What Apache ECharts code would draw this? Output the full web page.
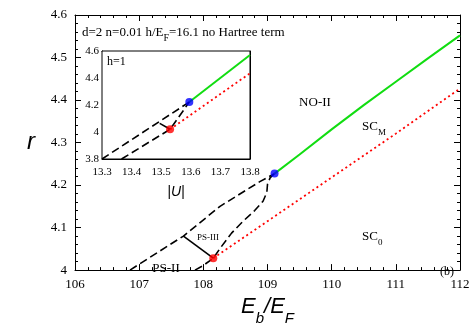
<!DOCTYPE html>
<html>
<head>
<meta charset="utf-8">
<script src="https://cdn.jsdelivr.net/npm/echarts@6/dist/echarts.min.js"></script>
<style>
html,body{margin:0;padding:0;background:#fff;}
#main{width:473px;height:331px;}
</style>
</head>
<body>
<div id="main"></div>
<script>
// main panel: E_b/E_F vs r
var greenMain = [[109.11, 4.227], [109.5, 4.272], [110, 4.331], [110.5, 4.388], [111, 4.443], [111.5, 4.498], [112, 4.552]];
var redMain = [[108.155, 4.028], [109, 4.115], [110, 4.218], [111, 4.321], [112, 4.427]];
var upperDashMain = [[106.857, 4.0], [107.48, 4.06], [107.69, 4.08], [108.26, 4.15], [108.88, 4.208], [109.11, 4.227]];
var lowerDashMain = [[107.87, 4.0], [108.0, 4.011], [108.155, 4.028], [108.26, 4.051], [108.44, 4.087], [108.62, 4.115],
    [108.8, 4.14], [108.93, 4.162], [108.99, 4.183], [109.0, 4.202], [109.04, 4.217], [109.11, 4.227]];
var tieMain = [[107.69, 4.08], [108.155, 4.028]];
var blueMain = [[109.11, 4.227]];
var redDotMain = [[108.155, 4.028]];

// inset: |U| vs r, h=1
var greenInset = [[13.595, 4.222], [13.8, 4.57]];
var redInset = [[13.53, 4.02], [13.8, 4.435]];
var upperDashInset = [[13.3, 3.8], [13.595, 4.222]];
var lowerDashInset = [[13.366, 3.8], [13.53, 4.02], [13.595, 4.222]];
var tieInset = [[13.495, 4.064], [13.53, 4.02]];
var blueInset = [[13.595, 4.222]];
var redDotInset = [[13.53, 4.02]];

var serif = 'Liberation Serif';
var sans = 'Liberation Sans';

function frameAxis(pos, grid, min, max, interval, split, labels, fs, margin) {
    return {
        type: 'value', gridIndex: grid, position: pos, min: min, max: max, interval: interval,
        axisLine: {show: true, onZero: false, lineStyle: {color: '#000', width: 1}},
        axisTick: {show: true, inside: true, length: 6, lineStyle: {color: '#000'}},
        minorTick: {show: true, splitNumber: split, length: 3, lineStyle: {color: '#000'}},
        splitLine: {show: false},
        axisLabel: {show: labels, color: '#000', fontFamily: serif, fontSize: fs, margin: margin,
            showMinLabel: true, showMaxLabel: true}
    };
}

var chart = echarts.init(document.getElementById('main'));

var xMain = frameAxis('bottom', 0, 106, 112, 1, 5, true, 13, 8);
xMain.name = '{e|E}{s|b}{e|/E}{s|F}';
xMain.nameLocation = 'middle';
xMain.nameGap = 17;
xMain.nameTextStyle = {
    rich: {
        e: {fontFamily: sans, fontStyle: 'italic', fontSize: 22, color: '#000'},
        s: {fontFamily: sans, fontStyle: 'italic', fontSize: 15, color: '#000', verticalAlign: 'bottom', padding: [0, 0, -8, 0]}
    }
};
var yMain = frameAxis('left', 0, 4, 4.6, 0.1, 5, true, 13, 8);
yMain.name = 'r';
yMain.nameLocation = 'middle';
yMain.nameRotate = 0;
yMain.nameGap = 40;
yMain.nameTextStyle = {fontFamily: sans, fontStyle: 'italic', fontSize: 24, color: '#000'};

var xInset = frameAxis('bottom', 1, 13.3, 13.8, 0.1, 5, true, 11, 8);
xInset.name = '|U|';
xInset.nameLocation = 'middle';
xInset.nameGap = 26;
xInset.nameTextStyle = {fontFamily: sans, fontStyle: 'italic', fontSize: 14, color: '#000'};
var yInset = frameAxis('left', 1, 3.8, 4.6, 0.2, 2, true, 11, 3);

function line(data, xi, yi, color, type, width) {
    return {
        type: 'line', data: data, xAxisIndex: xi, yAxisIndex: yi, symbol: 'none', smooth: false,
        lineStyle: {color: color, type: type, width: width}, z: 3, silent: true
    };
}
function dot(data, xi, yi, color) {
    return {
        type: 'scatter', data: data, xAxisIndex: xi, yAxisIndex: yi, symbol: 'circle', symbolSize: 8,
        itemStyle: {color: color}, z: 5, silent: true
    };
}

var option = {
    backgroundColor: '#fff',
    animation: false,
    grid: [
        {left: 75, top: 15, width: 385, height: 264, show: false},
        {left: 102, top: 51, width: 148, height: 108, show: true, backgroundColor: '#fff', borderColor: '#000', borderWidth: 1, z: 1}
    ],
    xAxis: [
        xMain,
        frameAxis('top', 0, 106, 112, 1, 5, false, 13, 8),
        xInset,
        frameAxis('top', 1, 13.3, 13.8, 0.1, 5, false, 11, 8)
    ],
    yAxis: [
        yMain,
        frameAxis('right', 0, 4, 4.6, 0.1, 5, false, 13, 8),
        yInset,
        frameAxis('right', 1, 3.8, 4.6, 0.2, 2, false, 11, 3)
    ],
    series: [
        line(greenMain, 0, 0, '#11dd11', 'solid', 2),
        line(redMain, 0, 0, '#ff0000', [2, 3], 1.8),
        line(upperDashMain, 0, 0, '#000', [8, 4], 1.6),
        line(lowerDashMain, 0, 0, '#000', [8, 4], 1.6),
        line(tieMain, 0, 0, '#000', 'solid', 1.6),
        dot(blueMain, 0, 0, '#0000ff'),
        dot(redDotMain, 0, 0, '#ff0000'),

        line(greenInset, 2, 2, '#11dd11', 'solid', 2),
        line(redInset, 2, 2, '#ff0000', [2, 3], 1.8),
        line(upperDashInset, 2, 2, '#000', [8, 4], 1.6),
        line(lowerDashInset, 2, 2, '#000', [8, 4], 1.6),
        line(tieInset, 2, 2, '#000', 'solid', 1.6),
        dot(blueInset, 2, 2, '#0000ff'),
        dot(redDotInset, 2, 2, '#ff0000')
    ],
    graphic: [
        {type: 'text', x: 82, y: 33, z: 10, style: {
            text: '{t|d=2 n=0.01 h/E}{s|F}{t|=16.1 no Hartree term}', textVerticalAlign: 'middle',
            rich: {t: {fontFamily: serif, fontSize: 13, color: '#000'},
                s: {fontFamily: serif, fontSize: 10, color: '#000', verticalAlign: 'bottom', padding: [0, 0, -4, 0]}}
        }},
        {type: 'text', x: 107, y: 62, z: 10, style: {text: 'h=1', font: '12px "Liberation Serif"', fill: '#000', textVerticalAlign: 'middle'}},
        {type: 'text', x: 315, y: 103, z: 10, style: {text: 'NO-II', font: '13px "Liberation Serif"', fill: '#000', textAlign: 'center', textVerticalAlign: 'middle'}},
        {type: 'text', x: 362, y: 127, z: 10, style: {
            text: '{t|SC}{s|M}', textVerticalAlign: 'middle',
            rich: {t: {fontFamily: serif, fontSize: 13, color: '#000'},
                s: {fontFamily: serif, fontSize: 9, color: '#000', verticalAlign: 'bottom', padding: [0, 0, -4, 0]}}
        }},
        {type: 'text', x: 362, y: 237, z: 10, style: {
            text: '{t|SC}{s|0}', textVerticalAlign: 'middle',
            rich: {t: {fontFamily: serif, fontSize: 13, color: '#000'},
                s: {fontFamily: serif, fontSize: 9, color: '#000', verticalAlign: 'bottom', padding: [0, 0, -4, 0]}}
        }},
        {type: 'text', x: 447, y: 272, z: 10, style: {text: '(b)', font: '12px "Liberation Serif"', fill: '#000', textAlign: 'center', textVerticalAlign: 'middle'}},
        {type: 'text', x: 208, y: 238, z: 10, style: {text: 'PS-III', font: '9px "Liberation Serif"', fill: '#000', textAlign: 'center', textVerticalAlign: 'middle'}},
        {type: 'text', x: 166, y: 269, z: 10, style: {text: 'PS-II', font: '13px "Liberation Serif"', fill: '#000', textAlign: 'center', textVerticalAlign: 'middle'}}
    ]
};
chart.setOption(option);
</script>
</body>
</html>
